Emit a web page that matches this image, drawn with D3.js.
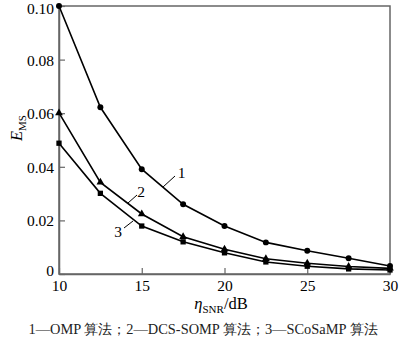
<!DOCTYPE html>
<html>
<head>
<meta charset="utf-8">
<script src="https://cdn.jsdelivr.net/npm/d3@7"></script>
<style>
  html, body { margin: 0; padding: 0; background: #fff; }
  svg { display: block; }
  svg text { font-family: "Liberation Serif", serif; }
</style>
</head>
<body>
<svg id="chart" width="400" height="343"></svg>
<script>
// SNR sample points (dB)
const snr = [10, 12.5, 15, 17.5, 20, 22.5, 25, 27.5, 30];
// Mean-square error per algorithm
const ompValues     = [0.100, 0.0622, 0.0391, 0.0260, 0.0179, 0.0118, 0.0087, 0.0059, 0.0030];
const dcsSompValues = [0.0601, 0.0342, 0.0224, 0.0139, 0.0092, 0.0057, 0.0040, 0.0028, 0.0021];
const scosampValues = [0.0488, 0.0301, 0.0179, 0.0120, 0.0079, 0.0045, 0.0029, 0.0019, 0.0015];
const seriesNames = ["1", "2", "3"];
const xTicks = [10, 15, 20, 25, 30];
const yTicks = [0, 0.02, 0.04, 0.06, 0.08, 0.10];
const yTickLabels = ["0", "0.02", "0.04", "0.06", "0.08", "0.10"];
const caption = "1\u2014OMP 算法；2\u2014DCS-SOMP 算法；3\u2014SCoSaMP 算法";

const svg = d3.select("#chart");
const plotLeft = 59, plotRight = 390, plotTop = 6, plotBottom = 274;
const serif = "Liberation Serif";

const x = d3.scaleLinear().domain([10, 30]).range([plotLeft, plotRight]);
const y = d3.scaleLinear().domain([0, 0.10]).range([plotBottom, plotTop]);

const axisColor = "#666";

// frame
svg.append("rect")
  .attr("x", plotLeft).attr("y", plotTop)
  .attr("width", plotRight - plotLeft).attr("height", plotBottom - plotTop)
  .attr("fill", "none").attr("stroke", axisColor).attr("stroke-width", 1.5);

// x axis (ticks point inward)
const xAxis = svg.append("g")
  .attr("transform", `translate(0,${plotBottom})`)
  .call(d3.axisBottom(x).tickValues(xTicks).tickSizeInner(-6).tickSizeOuter(0).tickPadding(8).tickFormat(d3.format("d")));
xAxis.attr("font-family", null);
xAxis.select(".domain").attr("stroke", axisColor).attr("stroke-width", 1.5);
xAxis.selectAll(".tick line").attr("stroke", axisColor).attr("stroke-width", 1.2);
xAxis.selectAll(".tick text")
  .style("font-family", serif).attr("font-size", 15.5).attr("fill", "#000")
  .attr("dy", "0.9em").attr("y", 3);

// y axis (ticks point inward)
const yAxis = svg.append("g")
  .attr("transform", `translate(${plotLeft},0)`)
  .call(d3.axisLeft(y).tickValues(yTicks).tickSizeInner(-6).tickSizeOuter(0).tickPadding(5)
    .tickFormat((d, i) => yTickLabels[i]));
yAxis.attr("font-family", null);
yAxis.select(".domain").attr("stroke", axisColor).attr("stroke-width", 1.5);
yAxis.selectAll(".tick line").attr("stroke", axisColor).attr("stroke-width", 1.2);
yAxis.selectAll(".tick text")
  .style("font-family", serif).attr("font-size", 15.5).attr("fill", "#000")
  .attr("dy", "0.36em")
  // the zero label sits slightly above its tick so it clears the x labels;
  // the top label is nudged down to stay inside the page
  .attr("y", d => d === 0 ? -4 : (d === 0.10 ? 1.5 : 0));

// series
const series = [
  { name: seriesNames[0], values: ompValues, symbol: d3.symbolCircle, size: 28 },
  { name: seriesNames[1], values: dcsSompValues, symbol: d3.symbolTriangle, size: 26 },
  { name: seriesNames[2], values: scosampValues, symbol: d3.symbolSquare, size: 28 }
];

const line = d3.line().x(d => x(d[0])).y(d => y(d[1]));

series.forEach(s => {
  const pts = snr.map((v, i) => [v, s.values[i]]);
  svg.append("path")
    .datum(pts)
    .attr("d", line)
    .attr("fill", "none")
    .attr("stroke", "#000")
    .attr("stroke-width", 1.6);
  svg.append("g").selectAll("path")
    .data(pts)
    .join("path")
    .attr("transform", d => `translate(${x(d[0])},${y(d[1])})`)
    .attr("d", d3.symbol().type(s.symbol).size(s.size))
    .attr("fill", "#000");
});

// series callouts with leader lines
const callouts = [
  { text: seriesNames[0], tx: 181.5, ty: 178, x1: 163, y1: 187, x2: 175, y2: 176 },
  { text: seriesNames[1], tx: 141, ty: 197, x1: 128, y1: 203, x2: 137, y2: 195 },
  { text: seriesNames[2], tx: 118, ty: 237, x1: 124, y1: 228, x2: 133, y2: 221 }
];
callouts.forEach(c => {
  svg.append("line")
    .attr("x1", c.x1).attr("y1", c.y1).attr("x2", c.x2).attr("y2", c.y2)
    .attr("stroke", "#000").attr("stroke-width", 1);
  svg.append("text")
    .attr("x", c.tx).attr("y", c.ty)
    .attr("text-anchor", "middle")
    .attr("font-size", 15.5)
    .text(c.text);
});

// y axis title: E_MS
const yTitle = svg.append("text")
  .attr("transform", "translate(22,128) rotate(-90)")
  .attr("text-anchor", "middle")
  .attr("font-size", 16.5);
yTitle.append("tspan").attr("font-style", "italic").text("E");
yTitle.append("tspan").attr("font-size", 11).attr("dy", 4).text("MS");

// x axis title: η_SNR/dB
const xTitle = svg.append("text")
  .attr("x", 221).attr("y", 309)
  .attr("text-anchor", "middle")
  .attr("font-size", 16.5);
xTitle.append("tspan").attr("font-style", "italic").text("η");
xTitle.append("tspan").attr("font-size", 11).attr("dy", 4).text("SNR");
xTitle.append("tspan").attr("dy", -4).text("/dB");

// caption
svg.append("text")
  .attr("x", 203).attr("y", 334)
  .attr("text-anchor", "middle")
  .attr("font-size", 14.4)
  .attr("fill", "#222")
  .text(caption);
</script>
</body>
</html>
